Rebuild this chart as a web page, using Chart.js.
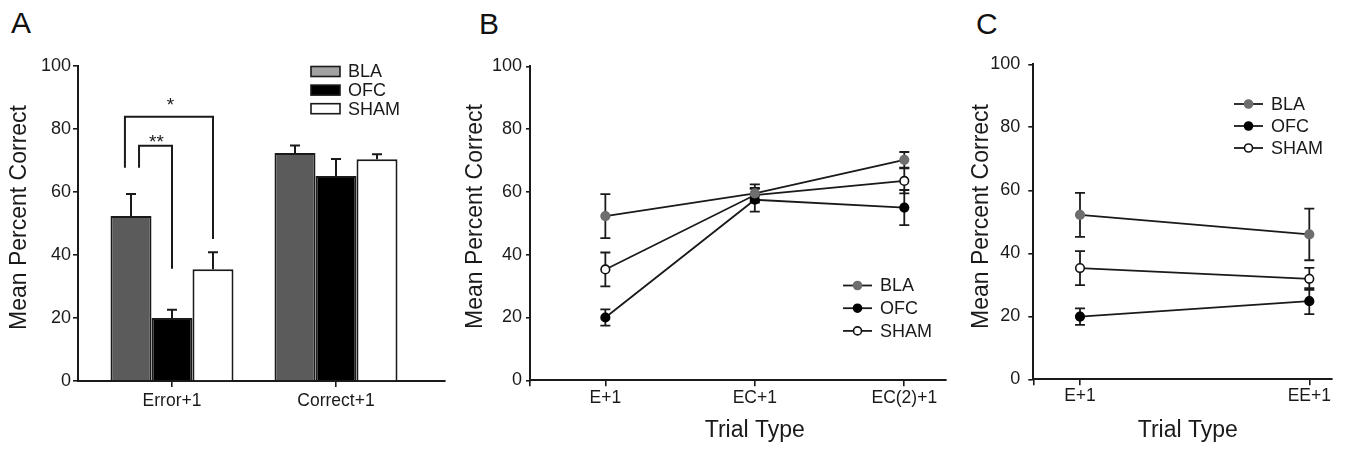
<!DOCTYPE html>
<html><head><meta charset="utf-8">
<script src="https://cdn.jsdelivr.net/npm/chart.js@4.4.1/dist/chart.umd.min.js"></script>
<style>
html,body{margin:0;padding:0;background:#fff;}
body{width:1347px;height:450px;position:relative;overflow:hidden;font-family:"Liberation Sans",Arial,sans-serif;}
canvas{position:absolute;top:0;}
.lbl{position:absolute;font-size:30px;line-height:30px;color:#111;}
</style></head><body>
<div class="lbl" style="left:11px;top:8px">A</div>
<div class="lbl" style="left:479px;top:9px">B</div>
<div class="lbl" style="left:976px;top:9px">C</div>
<canvas id="cA" width="450" height="450" style="left:0px"></canvas>
<canvas id="cB" width="502" height="450" style="left:450px"></canvas>
<canvas id="cC" width="395" height="450" style="left:952px"></canvas>
<script>
// ---------- data ----------
const groups = ['BLA', 'OFC', 'SHAM'];
const yTickValues = [0, 20, 40, 60, 80, 100];

// Panel A (bars, mean + SEM)
const barCategories = ['Error+1', 'Correct+1'];
const barBLA = [52.4, 72.4];
const barOFC = [20.0, 65.1];
const barSHAM = [35.5, 70.4];
const barErrBLA = [7.0, 2.4];
const barErrOFC = [2.6, 5.4];
const barErrSHAM = [5.4, 1.6];
// significance annotations (x in category units, y in percent)
const sigBrackets = [
  { text: '*',  x1: 0.713, x2: 1.25, yLeft: 67.7, yTop: 83.9, yRight: 45.1, textX: 0.99, textY: 89.2 },
  { text: '**', x1: 0.799, x2: 1.00, yLeft: 67.7, yTop: 74.7, yRight: 35.6, textX: 0.905, textY: 77.4 }
];

// Panel B
const trialTypesB = ['E+1', 'EC+1', 'EC(2)+1'];
const lineB_BLA = [52.3, 59.5, 70.2];
const lineB_OFC = [20.0, 57.5, 55.0];
const lineB_SHAM = [35.3, 59.0, 63.5];
const errB_BLA = [7.0, 2.9, 2.5];
const errB_OFC = [2.6, 3.8, 5.6];
const errB_SHAM = [5.4, 2.0, 4.0];

// Panel C
const trialTypesC = ['E+1', 'EE+1'];
const lineC_BLA = [52.2, 46.0];
const lineC_OFC = [19.9, 24.8];
const lineC_SHAM = [35.3, 31.9];
const errC_BLA = [7.0, 8.2];
const errC_OFC = [2.6, 4.1];
const errC_SHAM = [5.4, 3.5];

// ---------- styling ----------
const FONT = '"Liberation Sans", Arial, sans-serif';
const INK = '#1a1a1a';
const barFill = ['#5b5b5b', '#000000', '#ffffff'];
const barLegendFill = ['#a2a2a2', '#000000', '#ffffff'];
const pointFill = ['#6e6e6e', '#000000', '#ffffff'];
const pointEdge = ['#6e6e6e', '#000000', '#111111'];

Chart.defaults.font.family = FONT;
Chart.defaults.color = INK;

// ---------- plugins ----------
function drawErrorBars(chart, o) {
  const ctx = chart.ctx, ys = chart.scales.y;
  ctx.save();
  ctx.strokeStyle = INK; ctx.lineWidth = o.lineWidth;
  o.errors.forEach((errs, di) => {
    const meta = chart.getDatasetMeta(di);
    meta.data.forEach((el, j) => {
      const v = chart.data.datasets[di].data[j].y, e = errs[j];
      const x = el.x;
      const yTop = ys.getPixelForValue(v + e);
      const yBot = o.both ? ys.getPixelForValue(v - e) : ys.getPixelForValue(v);
      const h = o.cap / 2;
      ctx.beginPath();
      ctx.moveTo(x, yBot); ctx.lineTo(x, yTop);
      ctx.moveTo(x - h, yTop); ctx.lineTo(x + h, yTop);
      if (o.both) { ctx.moveTo(x - h, yBot); ctx.lineTo(x + h, yBot); }
      ctx.stroke();
    });
  });
  ctx.restore();
}
const errorBarPlugin = {
  id: 'errbars',
  beforeDatasetsDraw(chart, args, o) { if (o.errors && o.when === 'before') drawErrorBars(chart, o); },
  afterDatasetsDraw(chart, args, o) { if (o.errors && o.when === 'after') drawErrorBars(chart, o); }
};

const bracketPlugin = {
  id: 'brackets',
  afterDatasetsDraw(chart, args, o) {
    if (!o.items) return;
    const ctx = chart.ctx, xs = chart.scales.x, ys = chart.scales.y;
    ctx.save();
    ctx.strokeStyle = INK; ctx.lineWidth = 2; ctx.lineJoin = 'miter';
    o.items.forEach(b => {
      const x1 = xs.getPixelForValue(b.x1), x2 = xs.getPixelForValue(b.x2);
      ctx.beginPath();
      ctx.moveTo(x1, ys.getPixelForValue(b.yLeft));
      ctx.lineTo(x1, ys.getPixelForValue(b.yTop));
      ctx.lineTo(x2, ys.getPixelForValue(b.yTop));
      ctx.lineTo(x2, ys.getPixelForValue(b.yRight));
      ctx.stroke();
      ctx.fillStyle = INK; ctx.font = '19px ' + FONT; ctx.textAlign = 'center'; ctx.textBaseline = 'alphabetic';
      ctx.fillText(b.text, xs.getPixelForValue(b.textX), ys.getPixelForValue(b.textY) + 11);
    });
    ctx.restore();
  }
};

const legendPlugin = {
  id: 'customLegend',
  afterDraw(chart, args, o) {
    if (!o.kind) return;
    const ctx = chart.ctx;
    ctx.save();
    chart.data.datasets.forEach((ds, i) => {
      const y = o.y0 + i * o.dy;
      if (o.kind === 'bar') {
        ctx.fillStyle = barLegendFill[i];
        ctx.fillRect(o.x, y - 5, 29, 10);
        ctx.strokeStyle = INK; ctx.lineWidth = 1.6;
        ctx.strokeRect(o.x, y - 5, 29, 10);
      } else {
        ctx.strokeStyle = INK; ctx.lineWidth = 1.8;
        ctx.beginPath(); ctx.moveTo(o.x, y); ctx.lineTo(o.x + 29, y); ctx.stroke();
        ctx.beginPath(); ctx.arc(o.x + 14.5, y, 4, 0, Math.PI * 2);
        ctx.fillStyle = ds.pointBackgroundColor; ctx.fill();
        ctx.strokeStyle = ds.pointBorderColor; ctx.lineWidth = 1.6; ctx.stroke();
      }
      ctx.fillStyle = INK; ctx.font = '18px ' + FONT;
      ctx.textAlign = 'left'; ctx.textBaseline = 'middle';
      ctx.fillText(ds.label, o.textX, y + 1);
    });
    ctx.restore();
  }
};

const axisTextPlugin = {
  id: 'axisTexts',
  afterDraw(chart, args, o) {
    const ctx = chart.ctx;
    ctx.save();
    ctx.fillStyle = INK; ctx.font = '23px ' + FONT; ctx.textAlign = 'center'; ctx.textBaseline = 'middle';
    if (o.yTitle) {
      ctx.save(); ctx.translate(o.yTitle.x, o.yTitle.y); ctx.rotate(-Math.PI / 2);
      ctx.fillText(o.yTitle.text, 0, 0); ctx.restore();
    }
    if (o.xTitle) {
      ctx.fillText(o.xTitle.text, chart.scales.x.getPixelForValue(o.xTitle.at), o.xTitle.y);
    }
    ctx.restore();
  }
};

Chart.register(errorBarPlugin, bracketPlugin, legendPlugin, axisTextPlugin);

// ---------- scale builders ----------
function yScale(c) {
  return {
    type: 'linear', min: 0, max: 100,
    afterBuildTicks: s => { s.ticks = yTickValues.map(v => ({ value: v })); },
    ticks: { color: INK, font: { family: FONT, size: 18 }, padding: c.pad },
    grid: { drawOnChartArea: false, drawTicks: true, tickLength: c.tick, color: INK, lineWidth: 1.6 },
    border: { display: true, color: INK, width: 2 },
    title: { display: false },
    afterFit: s => { s.width = c.width; }
  };
}
function xScale(c) {
  return {
    type: 'linear', min: c.min, max: c.max, offset: false,
    afterBuildTicks: s => { s.ticks = c.ticks.map(v => ({ value: v })); },
    ticks: {
      color: INK, font: { family: FONT, size: 17.5 }, padding: c.pad, autoSkip: false,
      maxRotation: 0, minRotation: 0, callback: v => c.label(v)
    },
    grid: { offset: false, drawOnChartArea: false, drawTicks: true, tickLength: 6, color: INK, lineWidth: 1.6 },
    border: { display: true, color: INK, width: 2 },
    title: { display: false },
    afterFit: s => { s.height = c.height; }
  };
}
const common = { responsive: false, maintainAspectRatio: false, animation: false, events: [] };

// ---------- Panel A ----------
const barSeries = [barBLA, barOFC, barSHAM];
new Chart(document.getElementById('cA'), {
  type: 'bar',
  data: {
    datasets: groups.map((g, i) => ({
      label: g,
      data: barSeries[i].map((v, j) => ({ x: j + 1, y: v })),
      backgroundColor: barFill[i], borderColor: INK, borderWidth: 2,
      categoryPercentage: 0.75, barPercentage: 1.0
    }))
  },
  options: Object.assign({}, common, {
    layout: { padding: { left: 0, top: 66, right: 5, bottom: 0 } },
    scales: {
      x: xScale({ min: 1 - 94 / 164, max: 2 + 109 / 164, ticks: [1, 2], pad: 4, height: 69,
                  label: v => barCategories[v - 1] || '' }),
      y: yScale({ width: 78, tick: 5, pad: 2 })
    },
    plugins: {
      legend: { display: false }, tooltip: { enabled: false },
      errbars: { errors: [barErrBLA, barErrOFC, barErrSHAM], both: false, cap: 10, lineWidth: 2, when: 'after' },
      brackets: { items: sigBrackets },
      customLegend: { kind: 'bar', x: 311, textX: 348, y0: 71.5, dy: 18.6 },
      axisTexts: { yTitle: { text: 'Mean Percent Correct', x: 19.7, y: 217.5 } }
    }
  })
});

// ---------- line panel builder ----------
function linePanel(id, cats, series, errs, lay) {
  new Chart(document.getElementById(id), {
    type: 'line',
    data: {
      datasets: groups.map((g, i) => ({
        label: g,
        data: series[i].map((v, j) => ({ x: j, y: v })),
        borderColor: INK, borderWidth: 1.8, tension: 0, fill: false,
        pointRadius: 4.3, pointBorderWidth: 1.6,
        pointBackgroundColor: pointFill[i], pointBorderColor: pointEdge[i]
      }))
    },
    options: Object.assign({}, common, {
      layout: { padding: { left: 0, top: lay.top, right: lay.right, bottom: 0 } },
      scales: {
        x: xScale({ min: lay.xmin, max: lay.xmax, ticks: [lay.xmin].concat(cats.map((c, j) => j)),
                    pad: lay.xpad, height: 450 - lay.bottom,
                    label: v => (Number.isInteger(v) && cats[v] !== undefined) ? cats[v] : '' }),
        y: yScale({ width: lay.axisX, tick: lay.ytick, pad: lay.ypad })
      },
      plugins: {
        legend: { display: false }, tooltip: { enabled: false },
        errbars: { errors: errs, both: true, cap: 10, lineWidth: 1.8, when: 'before' },
        customLegend: { kind: 'line', x: lay.legX, textX: lay.legX + 37, y0: lay.legY, dy: lay.legDy },
        axisTexts: {
          yTitle: { text: 'Mean Percent Correct', x: lay.yTitleX, y: 216.5 },
          xTitle: { text: 'Trial Type', at: lay.xTitleAt, y: 431 }
        }
      }
    })
  });
}

linePanel('cB', trialTypesB, [lineB_BLA, lineB_OFC, lineB_SHAM], [errB_BLA, errB_OFC, errB_SHAM], {
  top: 66.3, bottom: 380.3, right: 4, axisX: 80, xmin: -75.7 / 150.15, xmax: 2 + 42 / 150.15,
  xpad: 1, ytick: 4, ypad: 4, legX: 393, legY: 285.5, legDy: 22.7, yTitleX: 25.8, xTitleAt: 1
});
linePanel('cC', trialTypesC, [lineC_BLA, lineC_OFC, lineC_SHAM], [errC_BLA, errC_OFC, errC_SHAM], {
  top: 64.3, bottom: 379.3, right: 15, axisX: 81.3, xmin: -46.7 / 229.3, xmax: 1 + 22.7 / 229.3,
  xpad: 0, ytick: 5, ypad: 8, legX: 282, legY: 104, legDy: 22, yTitleX: 30, xTitleAt: 0.47
});
</script>
</body></html>
